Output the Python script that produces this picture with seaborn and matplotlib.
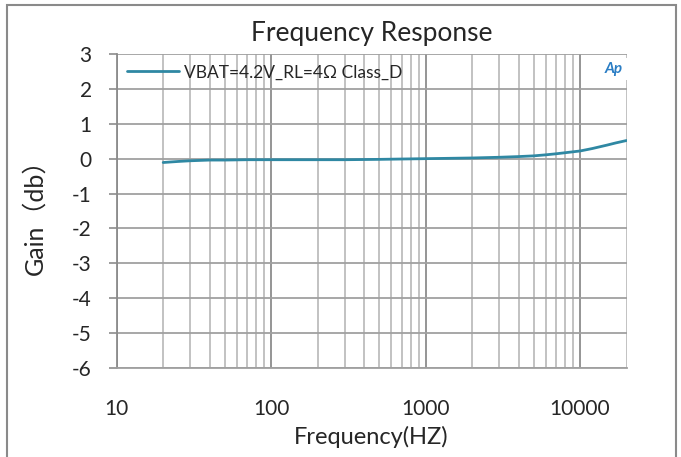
import matplotlib
matplotlib.use("Agg")
import matplotlib.pyplot as plt
import seaborn as sns
import pandas as pd
from matplotlib.patches import Rectangle
from matplotlib.ticker import FixedLocator

freqs = [20, 25, 30, 40, 50, 70, 100, 200, 300, 500, 700, 1000, 2000, 3000,
         4000, 5000, 6000, 7000, 8000, 10000, 12000, 15000, 17000, 20000]
gains = [-0.11, -0.08, -0.06, -0.04, -0.04, -0.03, -0.03, -0.03, -0.03, -0.02,
         -0.01, 0.0, 0.02, 0.04, 0.06, 0.08, 0.11, 0.14, 0.17, 0.22, 0.29,
         0.39, 0.45, 0.52]
series_label = "VBAT=4.2V_RL=4Ω Class_D"
y_ticks = [-6, -5, -4, -3, -2, -1, 0, 1, 2, 3]
x_ticks = [10, 100, 1000, 10000]
x_tick_labels = ["10", "100", "1000", "10000"]

sns.set_style("white")
plt.rcParams['font.family'] = ['Lato', 'Noto Sans CJK SC', 'DejaVu Sans']

df = pd.DataFrame({"freq": freqs, "gain": gains})

fig = plt.figure(figsize=(6.81, 4.57), dpi=100)
ax = fig.add_axes([116.7 / 681, 1 - 368 / 457, (626.5 - 116.7) / 681, (368 - 54) / 457])

# figure border
fig.patches.append(Rectangle((7 / 681, -0.1), (676 - 7) / 681, (1 - 5 / 457) + 0.1,
                             transform=fig.transFigure, fill=False,
                             edgecolor="#8a8a8a", linewidth=1.5))

ax.set_xscale("log")
ax.set_xlim(10, 20000)
ax.set_ylim(-6, 3)

# gridlines
for f in [10, 100, 1000, 10000]:
    ax.axvline(f, color="#8c8c8c", linewidth=1.3, zorder=1)
minors = [m * 10 ** d for d in range(1, 5) for m in range(2, 10) if m * 10 ** d <= 20000]
for f in minors:
    ax.axvline(f, color="#bdbdbd", linewidth=1.3, zorder=1)
for y in y_ticks:
    ax.axhline(y, color="#a0a0a0", linewidth=1.3, zorder=1)

sns.lineplot(data=df, x="freq", y="gain", ax=ax, color="#2f88a3", linewidth=2.0,
             label=series_label, zorder=3, estimator=None)

ax.xaxis.set_major_locator(FixedLocator(x_ticks))
ax.xaxis.set_minor_locator(FixedLocator([]))
ax.set_xticklabels(x_tick_labels)
ax.set_yticks(y_ticks)
ax.set_yticklabels([str(v) for v in y_ticks])
ax.tick_params(axis="x", length=0, pad=22, labelsize=15)
ax.tick_params(axis="y", length=6, width=1.2, color="#8c8c8c", direction="out",
               left=True, pad=12, labelsize=15)

for s in ["top", "right"]:
    ax.spines[s].set_visible(False)
ax.spines["left"].set_color("#8c8c8c")
ax.spines["left"].set_linewidth(1.3)
ax.spines["bottom"].set_color("#a0a0a0")
ax.spines["bottom"].set_linewidth(1.3)

ax.set_title("Frequency Response", fontsize=19, pad=9)
ax.set_xlabel("Frequency(HZ)", fontsize=17, labelpad=5)
ax.set_ylabel("Gain（db）", fontsize=18, labelpad=18)

leg = ax.legend(loc="upper left", bbox_to_anchor=(0.0, 1.0), frameon=False,
                fontsize=12.5, handlelength=3.0, handletextpad=0.3,
                borderaxespad=0.2)

# logo
ax.text(0.975, 0.975, "Ap", transform=ax.transAxes, ha="center", va="top",
        fontsize=11, fontweight="bold", style="italic", color="#2a7dc4",
        bbox=dict(boxstyle="square,pad=0.25", facecolor="white", edgecolor="none"),
        zorder=5)

fig.savefig("out.png", dpi=100)
